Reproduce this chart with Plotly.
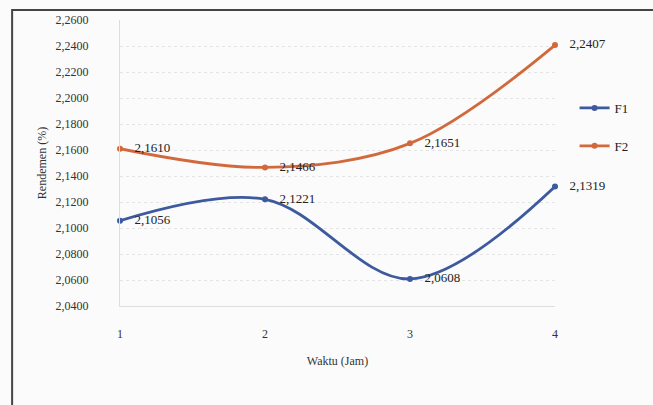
import plotly.graph_objects as go

waktu = [1, 2, 3, 4]
f1 = [2.1056, 2.1221, 2.0608, 2.1319]
f2 = [2.1610, 2.1466, 2.1651, 2.2407]
y_ticks = [2.04, 2.06, 2.08, 2.10, 2.12, 2.14, 2.16, 2.18, 2.20, 2.22, 2.24, 2.26]

blue = "#3d5a9e"
orange = "#d2693c"
font_family = "'Liberation Serif', 'Times New Roman', serif"
pad = "\u00a0\u00a0\u00a0"

fig = go.Figure()
for name, vals, col, grp in [("F1", f1, blue, "a"), ("F2", f2, orange, "b")]:
    fig.add_trace(go.Scatter(
        x=waktu, y=vals, name=name, legendgroup=grp,
        mode="lines+markers+text",
        line=dict(color=col, width=2.8, shape="spline", smoothing=1.0),
        marker=dict(color=col, size=6),
        text=[pad + f"{v:.4f}".replace(".", ",") for v in vals],
        textposition="middle right",
        textfont=dict(family=font_family, size=13, color="#222"),
        cliponaxis=False,
    ))

fig.update_layout(
    width=653, height=405,
    margin=dict(l=120, r=98, t=20, b=99),
    paper_bgcolor="#fbfbfb", plot_bgcolor="#fbfbfb",
    separators=",.",
    font=dict(family=font_family, size=12, color="#333"),
    showlegend=True,
    legend=dict(x=1.045, y=0.745, xanchor="left", yanchor="top",
                font=dict(family=font_family, size=13, color="#222"),
                tracegroupgap=18, bgcolor="rgba(0,0,0,0)", itemwidth=30),
    xaxis=dict(range=[1, 4], tickvals=waktu, ticktext=[str(w) for w in waktu],
               showgrid=False, zeroline=False, showline=True, linecolor="#dddddd",
               ticklabelstandoff=17,
               title=dict(text="Waktu (Jam)", font=dict(family=font_family, size=12, color="#333"),
                          standoff=16)),
    yaxis=dict(range=[2.04, 2.26], tickvals=y_ticks, tickformat=".4f",
               showgrid=True, gridcolor="#e4e4e4", griddash="dot", zeroline=False,
               showline=True, linecolor="#dddddd",
               ticklabelstandoff=28,
               title=dict(text="Rendemen (%)", font=dict(family=font_family, size=12, color="#333"),
                          standoff=6)),
)

fig.add_shape(type="rect", xref="paper", yref="paper",
              x0=-0.248, x1=1.5, y0=-0.5, y1=1.035,
              line=dict(color="#444444", width=2), fillcolor="rgba(0,0,0,0)", layer="below")

fig.write_html("out.html")
